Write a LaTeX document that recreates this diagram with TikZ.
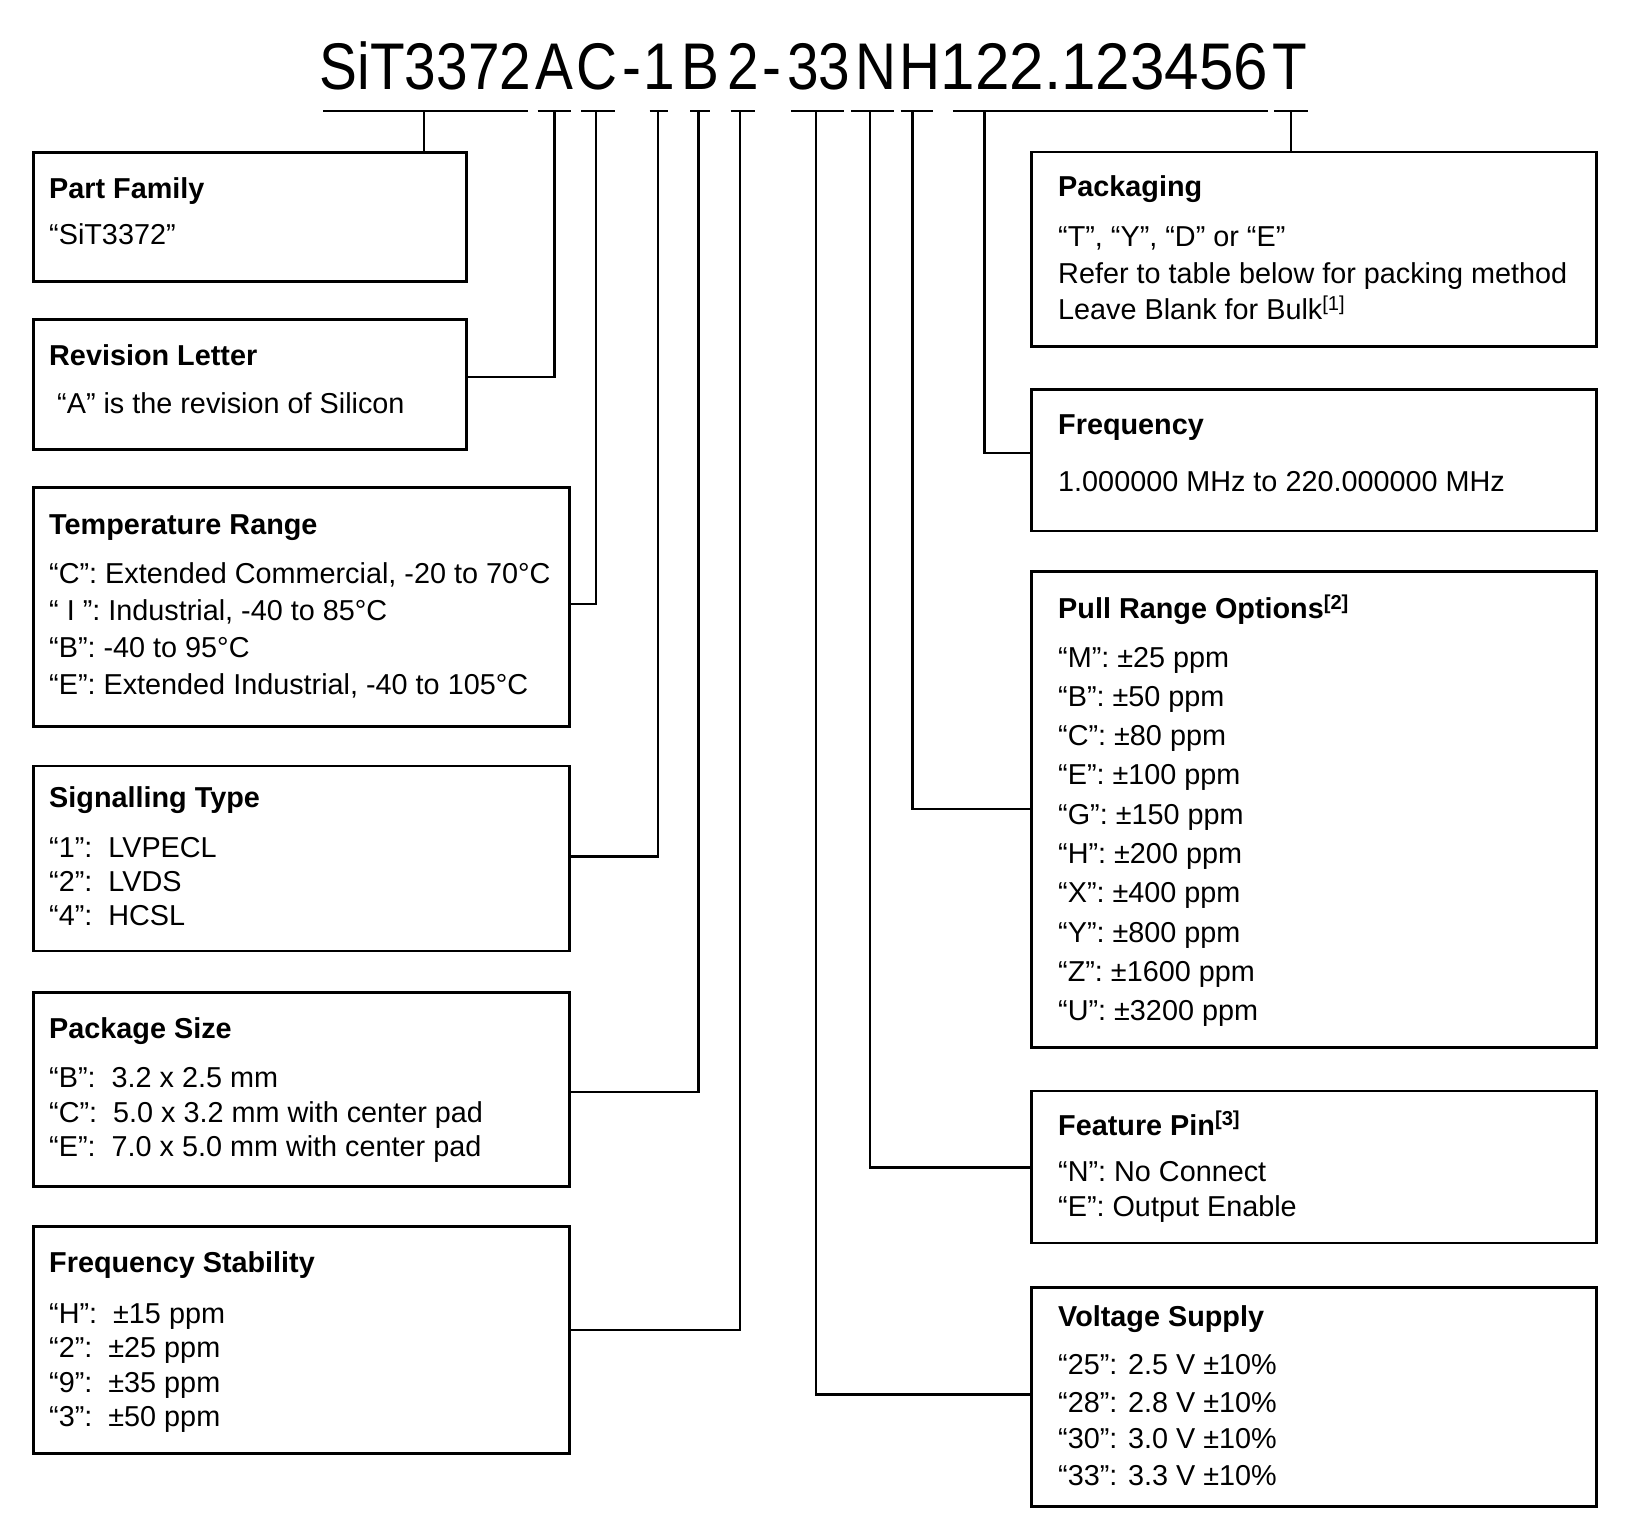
\documentclass[tikz,border=0pt]{standalone}
\usepackage{fontspec}
\usepackage{graphicx}
\setmainfont{Liberation Sans}
\begin{document}
\begin{tikzpicture}[x=1pt,y=-1pt,
  box/.style={draw, line width=2.8pt, inner sep=0pt, anchor=north west},
  conn/.style={line width=2.2pt},
  seg/.style={line width=2.4pt},
  txt/.style={anchor=base west, inner sep=0pt, font=\fontsize{28.8}{34}\selectfont},
  hd/.style={anchor=base west, inner sep=0pt, font=\fontsize{28.8}{34}\selectfont\bfseries},
  ttl/.style={anchor=base, inner sep=0pt, font=\fontsize{66}{66}\selectfont}]
\useasboundingbox (0,0) rectangle (1631,1534);
\fill[white] (0,0) rectangle (1631,1534);

% title groups
\node[ttl] (g1) at (425.5,89) {\scalebox{0.86}[1]{SiT3372}};
\node[ttl] (g2) at (554.5,89) {\scalebox{0.86}[1]{A}};
\node[ttl] (g3) at (597,89) {\scalebox{0.86}[1]{C}};
\node[ttl] (g4) at (632,89) {\scalebox{0.86}[1]{-}};
\node[ttl] (g5) at (659,89) {\scalebox{0.86}[1]{1}};
\node[ttl] (g6) at (700,89) {\scalebox{0.86}[1]{B}};
\node[ttl] (g7) at (743,89) {\scalebox{0.86}[1]{2}};
\node[ttl] (g8) at (772,89) {\scalebox{0.86}[1]{-}};
\node[ttl] (g9) at (819,89) {\scalebox{0.86}[1]{33}};
\node[ttl] (g10) at (875.5,89) {\scalebox{0.86}[1]{N}};
\node[ttl] (g11) at (920,89) {\scalebox{0.86}[1]{H}};
\node[ttl] (g12) at (1104.5,89) {\scalebox{0.94}[1]{122.123456}};
\node[ttl] (g13) at (1290,89) {\scalebox{0.86}[1]{T}};

% underline segments
\draw[seg] (323.4,111) -- (527.7,111);
\draw[seg] (537.7,111) -- (571.2,111);
\draw[seg] (581.3,111) -- (614.7,111);
\draw[seg] (649.6,111) -- (668.3,111);
\draw[seg] (690.4,111) -- (709.8,111);
\draw[seg] (730.6,111) -- (755.4,111);
\draw[seg] (790.9,111) -- (843.8,111);
\draw[seg] (851.1,111) -- (894.0,111);
\draw[seg] (900.7,111) -- (932.8,111);
\draw[seg] (952.9,111) -- (1267.7,111);
\draw[seg] (1274.4,111) -- (1307.8,111);

% tick coordinates
\coordinate (t1) at (424,111);
\coordinate (t2) at (554.5,111);
\coordinate (t3) at (596,111);
\coordinate (t4) at (658,111);
\coordinate (t5) at (698.5,111);
\coordinate (t6) at (740,111);
\coordinate (t7) at (816,111);
\coordinate (t8) at (870,111);
\coordinate (t9) at (912.5,111);
\coordinate (t10) at (984.5,111);
\coordinate (t11) at (1291,111);

% boxes
\node[box, minimum width=433pt, minimum height=129pt] (pf) at (32,151) {};
\node[box, minimum width=433pt, minimum height=130pt] (rev) at (32,318) {};
\node[box, minimum width=536pt, minimum height=239pt] (temp) at (32,486) {};
\node[box, minimum width=536pt, minimum height=185pt] (sig) at (32,764.5) {};
\node[box, minimum width=536pt, minimum height=194pt] (pkg) at (32,991) {};
\node[box, minimum width=536pt, minimum height=227pt] (stab) at (32,1225) {};
\node[box, minimum width=565pt, minimum height=194.5pt] (pack) at (1030,150.5) {};
\node[box, minimum width=565pt, minimum height=141.5pt] (freq) at (1030,388) {};
\node[box, minimum width=565pt, minimum height=476pt] (pull) at (1030,570) {};
\node[box, minimum width=565pt, minimum height=152pt] (feat) at (1030,1089.5) {};
\node[box, minimum width=565pt, minimum height=219.3pt] (volt) at (1030,1285.7) {};

% connector heights
\coordinate (y2) at (0,377.3);
\coordinate (y3) at (0,604.3);
\coordinate (y4) at (0,856.5);
\coordinate (y5) at (0,1092);
\coordinate (y6) at (0,1329.7);
\coordinate (y7) at (0,1394.5);
\coordinate (y8) at (0,1167.5);
\coordinate (y9) at (0,809.3);
\coordinate (y10) at (0,453);

% connectors
\draw[conn] (t1) -- (pf.north -| t1);
\draw[conn] (t2) |- (rev.east |- y2);
\draw[conn] (t3) |- (temp.east |- y3);
\draw[conn] (t4) |- (sig.east |- y4);
\draw[conn] (t5) |- (pkg.east |- y5);
\draw[conn] (t6) |- (stab.east |- y6);
\draw[conn] (t7) |- (volt.west |- y7);
\draw[conn] (t8) |- (feat.west |- y8);
\draw[conn] (t9) |- (pull.west |- y9);
\draw[conn] (t10) |- (freq.west |- y10);
\draw[conn] (t11) -- (pack.north -| t11);

% left column text
\node[hd] (pfh) at (49,198.5) {Part Family};
\node[txt] (pf1) at (49,244.3) {“SiT3372”};
\node[hd] (revh) at (49,365.5) {Revision Letter};
\node[txt] (rev1) at (49,413.3) {\ “A” is the revision of Silicon};
\node[hd] (temph) at (49,534) {Temperature Range};
\node[txt] (temp1) at (49,583.8) {“C”: Extended Commercial, -20 to 70°C};
\node[txt] (temp2) at (49,620.5) {“ I ”: Industrial, -40 to 85°C};
\node[txt] (temp3) at (49,657.8) {“B”: -40 to 95°C};
\node[txt] (temp4) at (49,694.8) {“E”: Extended Industrial, -40 to 105°C};
\node[hd] (sigh) at (49,807.5) {Signalling Type};
\node[txt] (sig1) at (49,857) {“1”:\ \ LVPECL};
\node[txt] (sig2) at (49,891.3) {“2”:\ \ LVDS};
\node[txt] (sig3) at (49,925.3) {“4”:\ \ HCSL};
\node[hd] (pkgh) at (49,1038) {Package Size};
\node[txt] (pkg1) at (49,1087) {“B”:\ \ 3.2 x 2.5 mm};
\node[txt] (pkg2) at (49,1122) {“C”:\ \ 5.0 x 3.2 mm with center pad};
\node[txt] (pkg3) at (49,1156.3) {“E”:\ \ 7.0 x 5.0 mm with center pad};
\node[hd] (stabh) at (49,1272.5) {Frequency Stability};
\node[txt] (stab1) at (49,1323) {“H”:\ \ ±15 ppm};
\node[txt] (stab2) at (49,1357) {“2”:\ \ ±25 ppm};
\node[txt] (stab3) at (49,1392) {“9”:\ \ ±35 ppm};
\node[txt] (stab4) at (49,1426) {“3”:\ \ ±50 ppm};

% right column text
\node[hd] (packh) at (1058,196.5) {Packaging};
\node[txt] (pack1) at (1058,246.8) {“T”, “Y”, “D” or “E”};
\node[txt] (pack2) at (1058,283.3) {Refer to table below for packing method};
\node[txt] (pack3) at (1058,319.3) {Leave Blank for Bulk\textsuperscript{[1]}};
\node[hd] (freqh) at (1058,434.5) {Frequency};
\node[txt] (freq1) at (1058,491) {1.000000 MHz to 220.000000 MHz};
\node[hd] (pullh) at (1058,618.5) {Pull Range Options\textsuperscript{[2]}};
\node[txt] (pull1) at (1058,667) {“M”: ±25 ppm};
\node[txt] (pull2) at (1058,706.3) {“B”: ±50 ppm};
\node[txt] (pull3) at (1058,745.6) {“C”: ±80 ppm};
\node[txt] (pull4) at (1058,784.9) {“E”: ±100 ppm};
\node[txt] (pull5) at (1058,824.2) {“G”: ±150 ppm};
\node[txt] (pull6) at (1058,863.5) {“H”: ±200 ppm};
\node[txt] (pull7) at (1058,902.8) {“X”: ±400 ppm};
\node[txt] (pull8) at (1058,942.1) {“Y”: ±800 ppm};
\node[txt] (pull9) at (1058,981.4) {“Z”: ±1600 ppm};
\node[txt] (pull10) at (1058,1020.7) {“U”: ±3200 ppm};
\node[hd] (feath) at (1058,1135) {Feature Pin\textsuperscript{[3]}};
\node[txt] (feat1) at (1058,1181) {“N”: No Connect};
\node[txt] (feat2) at (1058,1216) {“E”: Output Enable};
\node[hd] (volth) at (1058,1326.5) {Voltage Supply};
\node[txt] (volt1) at (1058,1374.6) {“25”: 2.5 V ±10\%};
\node[txt] (volt2) at (1058,1412) {“28”: 2.8 V ±10\%};
\node[txt] (volt3) at (1058,1448.6) {“30”: 3.0 V ±10\%};
\node[txt] (volt4) at (1058,1485.3) {“33”: 3.3 V ±10\%};
\end{tikzpicture}
\end{document}
